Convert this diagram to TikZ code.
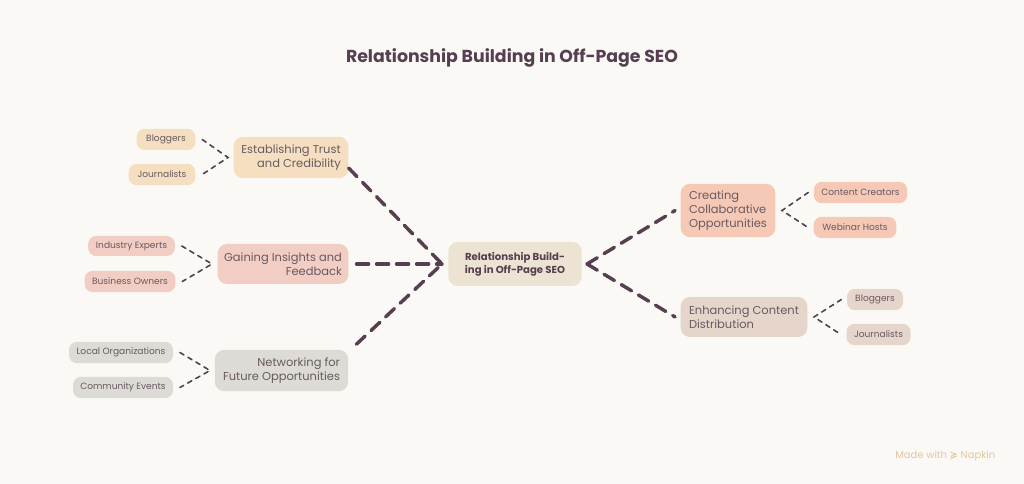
\documentclass[tikz,border=0pt]{standalone}
\usepackage{fontspec}
\setmainfont{Poppins}
\newfontfamily\symfont{DejaVu Sans}
\usetikzlibrary{positioning}
\definecolor{bgc}{HTML}{FBF9F6}
\definecolor{ink}{HTML}{553F50}
\definecolor{txt}{HTML}{6A5A62}
\definecolor{hub}{HTML}{EDE3D3}
\definecolor{trust}{HTML}{F5DFC0}
\definecolor{gain}{HTML}{F2CDC3}
\definecolor{netw}{HTML}{DCDBD6}
\definecolor{collab}{HTML}{F5C9B6}
\definecolor{distr}{HTML}{E6D5CB}
\definecolor{napkin}{HTML}{E2C89A}
\tikzset{
  box/.style={rounded corners=7pt,text=txt,font=\fontsize{8.6}{10.5}\selectfont,inner sep=0pt},
  leaf/.style={rounded corners=6pt,text=txt,font=\fontsize{6.8}{7.5}\selectfont,inner sep=0pt},
  thickdash/.style={ink,line width=2.6pt,dash pattern=on 9pt off 6pt,line cap=round},
  thindash/.style={ink,line width=1.2pt,dash pattern=on 3.5pt off 3.5pt,line cap=round}
}
\begin{document}
\begin{tikzpicture}[x=0.75pt,y=-0.75pt]
	% background
	\fill[bgc] (0,0) rectangle (1024,484);
	\useasboundingbox (0,0) rectangle (1024,484);
	\node[font=\bfseries\fontsize{13}{15}\selectfont,text=ink] (title) at (512,58) {Relationship Building in Off-Page SEO};
	% main nodes
	\node[box,fill=hub,minimum width=100pt,minimum height=33pt,align=center,font=\bfseries\fontsize{7.6}{9.8}\selectfont,text=ink] (hub) at (515,264) {Relationship Build-\\ing in Off-Page SEO};
	\node[box,fill=trust,minimum width=86pt,minimum height=31pt,align=right] (trust) at (291,157.5) {Establishing Trust\\and Credibility};
	\node[box,fill=gain,minimum width=98pt,minimum height=30pt,align=right] (gain) at (283,264) {Gaining Insights and\\Feedback};
	\node[box,fill=netw,minimum width=100pt,minimum height=31pt,align=right] (netw) at (281.5,370.5) {Networking for\\Future Opportunities};
	\node[box,fill=collab,minimum width=71pt,minimum height=40pt,align=left] (collab) at (728,210.5) {Creating\\Collaborative\\Opportunities};
	\node[box,fill=distr,minimum width=95pt,minimum height=30pt,align=left] (distr) at (744,317) {Enhancing Content\\Distribution};
	% leaves
	\node[leaf,fill=trust,minimum width=44pt,minimum height=16pt] (blogA) at (166,139.5) {Bloggers};
	\node[leaf,fill=trust,minimum width=50pt,minimum height=16pt] (jourA) at (162,174.5) {Journalists};
	\node[leaf,fill=gain,minimum width=65pt,minimum height=15pt] (expert) at (131.5,246) {Industry Experts};
	\node[leaf,fill=gain,minimum width=68pt,minimum height=16pt] (owner) at (130,281.5) {Business Owners};
	\node[leaf,fill=netw,minimum width=78pt,minimum height=16pt] (local) at (121,352.5) {Local Organizations};
	\node[leaf,fill=netw,minimum width=75pt,minimum height=16pt] (event) at (123,387.5) {Community Events};
	\node[leaf,fill=collab,minimum width=70pt,minimum height=16pt] (creator) at (860.5,192.5) {Content Creators};
	\node[leaf,fill=collab,minimum width=62pt,minimum height=16pt] (host) at (855,227.5) {Webinar Hosts};
	\node[leaf,fill=distr,minimum width=42pt,minimum height=16pt] (blogB) at (875,299.5) {Bloggers};
	\node[leaf,fill=distr,minimum width=48pt,minimum height=16pt] (jourB) at (878.5,334.5) {Journalists};
	% joints
	\coordinate (hubW) at (442,264);
	\coordinate (hubE) at (587,264);
	\coordinate (trustW) at (228,157.5);
	\coordinate (gainW) at (212,264);
	\coordinate (netwW) at (210,370.5);
	\coordinate (collabE) at (782,210.5);
	\coordinate (distrE) at (814,317);
	% connectors
	\draw[thickdash] (trust.east|-0,168) -- (hubW);
	\draw[thickdash] ([xshift=6pt]gain.east) -- (hubW);
	\draw[thickdash] ([xshift=6pt,yshift=4pt]netw.north east) -- (hubW);
	\draw[thickdash] (hubE) -- ([xshift=-4pt]collab.west);
	\draw[thickdash] (hubE) -- ([xshift=-4pt]distr.west);
	\draw[thindash] ([xshift=5pt]blogA.east) -- (trustW) -- ([xshift=5pt]jourA.east);
	\draw[thindash] ([xshift=5pt]expert.east) -- (gainW) -- ([xshift=5pt]owner.east);
	\draw[thindash] ([xshift=5pt]local.east) -- (netwW) -- ([xshift=5pt]event.east);
	\draw[thindash] ([xshift=-4pt]creator.west) -- (collabE) -- ([xshift=-4pt]host.west);
	\draw[thindash] ([xshift=-4pt]blogB.west) -- (distrE) -- ([xshift=-4pt]jourB.west);
	% footer
	\node[font=\fontsize{7.5}{8}\selectfont,text=napkin,anchor=east] (made) at (1000,456) {Made with {\symfont\bfseries ≽} Napkin};
\end{tikzpicture}
\end{document}
